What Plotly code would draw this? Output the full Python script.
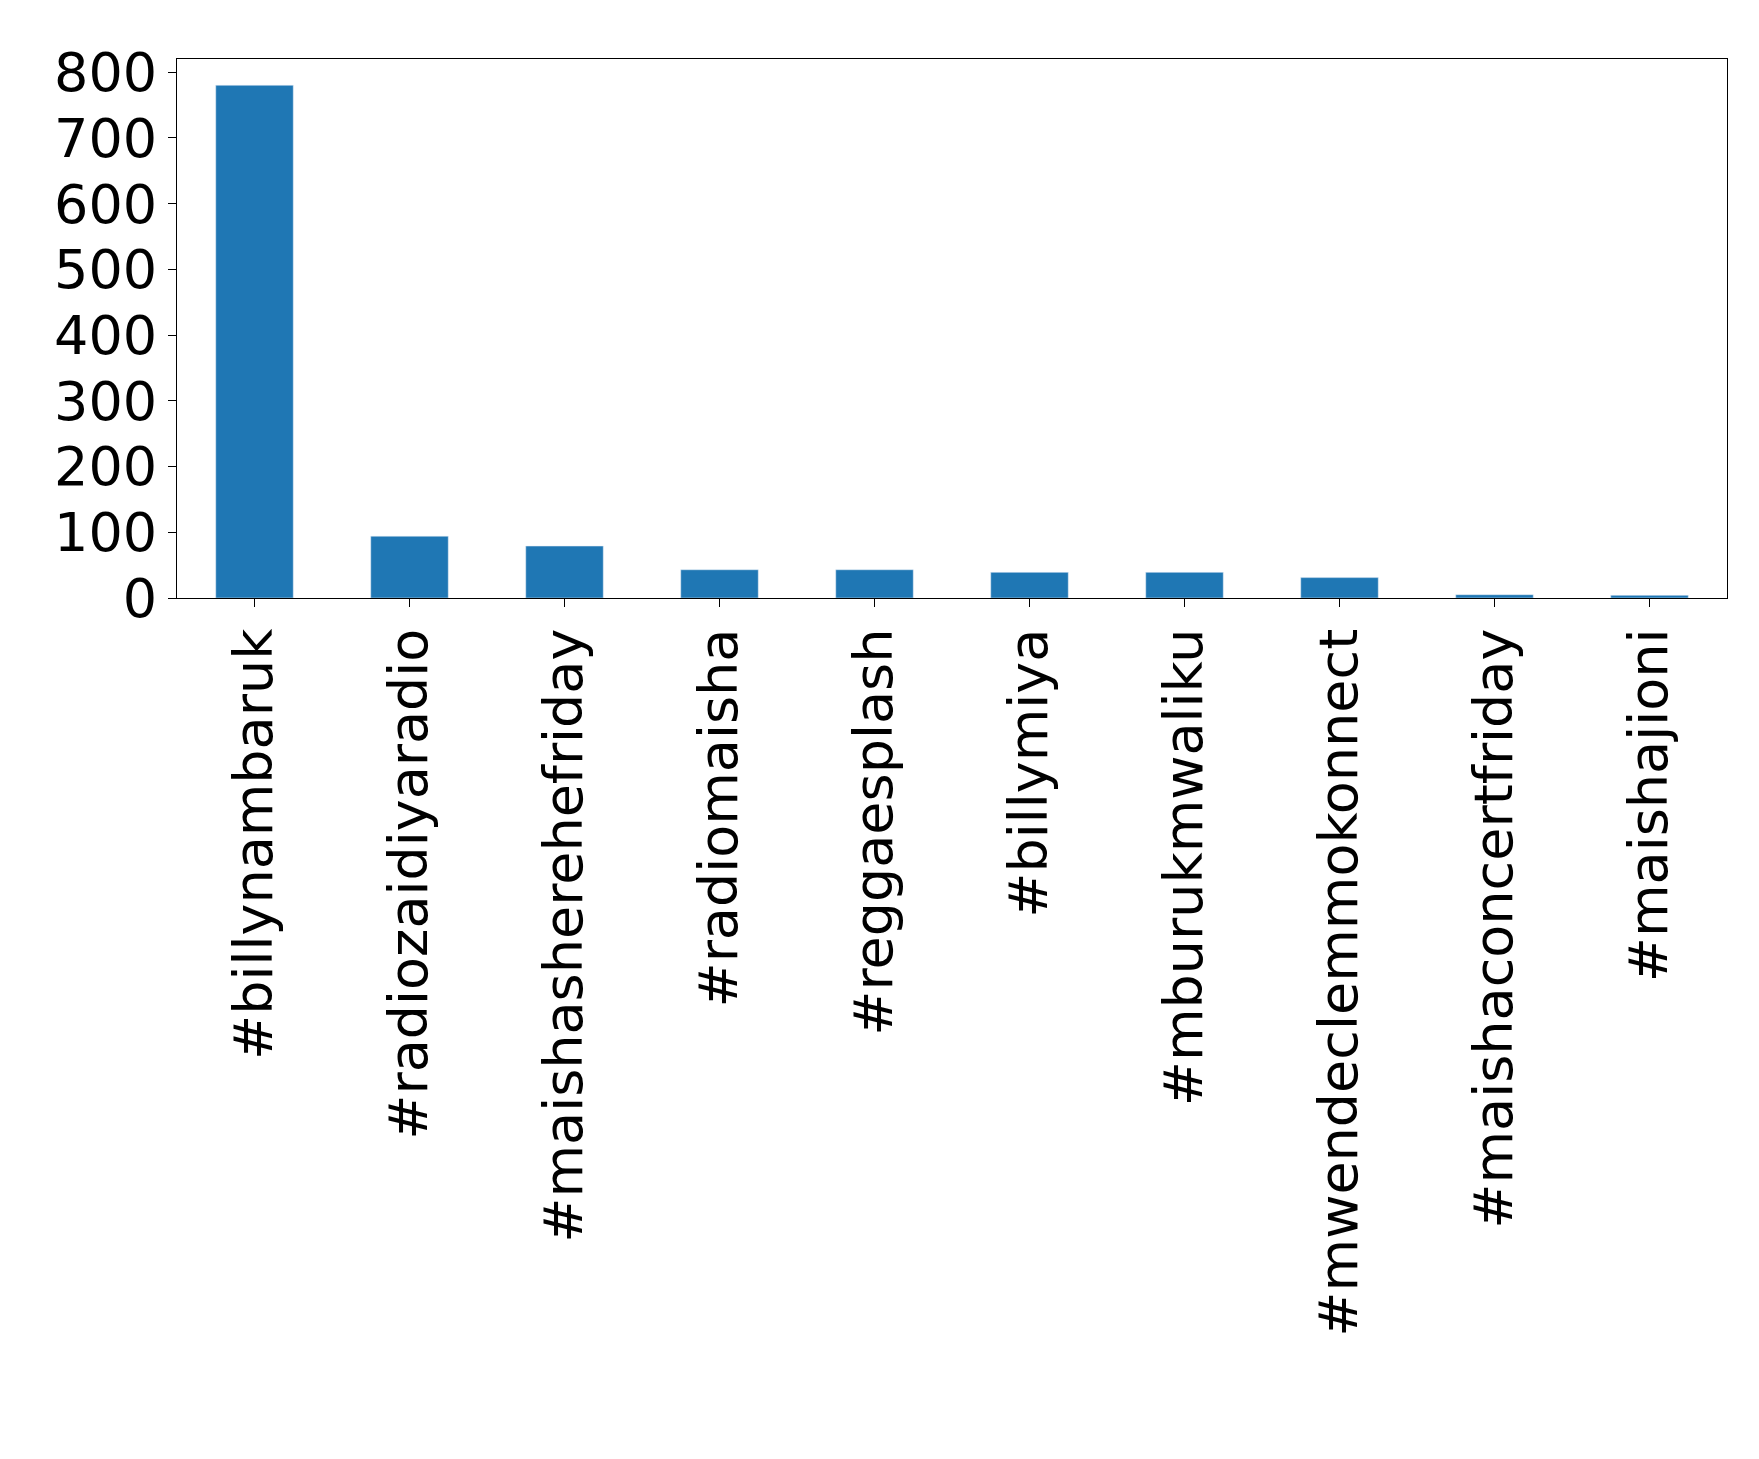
import plotly.graph_objects as go

tags = ["#billynambaruk", "#radiozaidiyaradio", "#maishasherehefriday", "#radiomaisha",
        "#reggaesplash", "#billymiya", "#mburukmwaliku", "#mwendeclemmokonnect",
        "#maishaconcertfriday", "#maishajioni"]
counts = [780, 94, 79, 43, 43, 39, 39, 31, 5, 4]

fig = go.Figure(go.Bar(x=tags, y=counts, width=0.5, marker_color="#1f77b4"))
fig.update_layout(
    width=1759, height=1459, plot_bgcolor="white", paper_bgcolor="white",
    margin=dict(l=169, r=40, t=51, b=869),
    font=dict(family="DejaVu Sans", size=54, color="black"),
    showlegend=False,
)
fig.update_xaxes(tickangle=-90, range=[-0.5, 9.5], showline=True, linecolor="black",
                 mirror=True, ticks="outside", ticklen=8, tickcolor="black")
fig.update_yaxes(range=[0, 820], tickvals=[0, 100, 200, 300, 400, 500, 600, 700, 800],
                 showgrid=False, zeroline=False, showline=True, linecolor="black",
                 mirror=True, ticks="outside", ticklen=8, tickcolor="black")
fig.write_html("out.html")
